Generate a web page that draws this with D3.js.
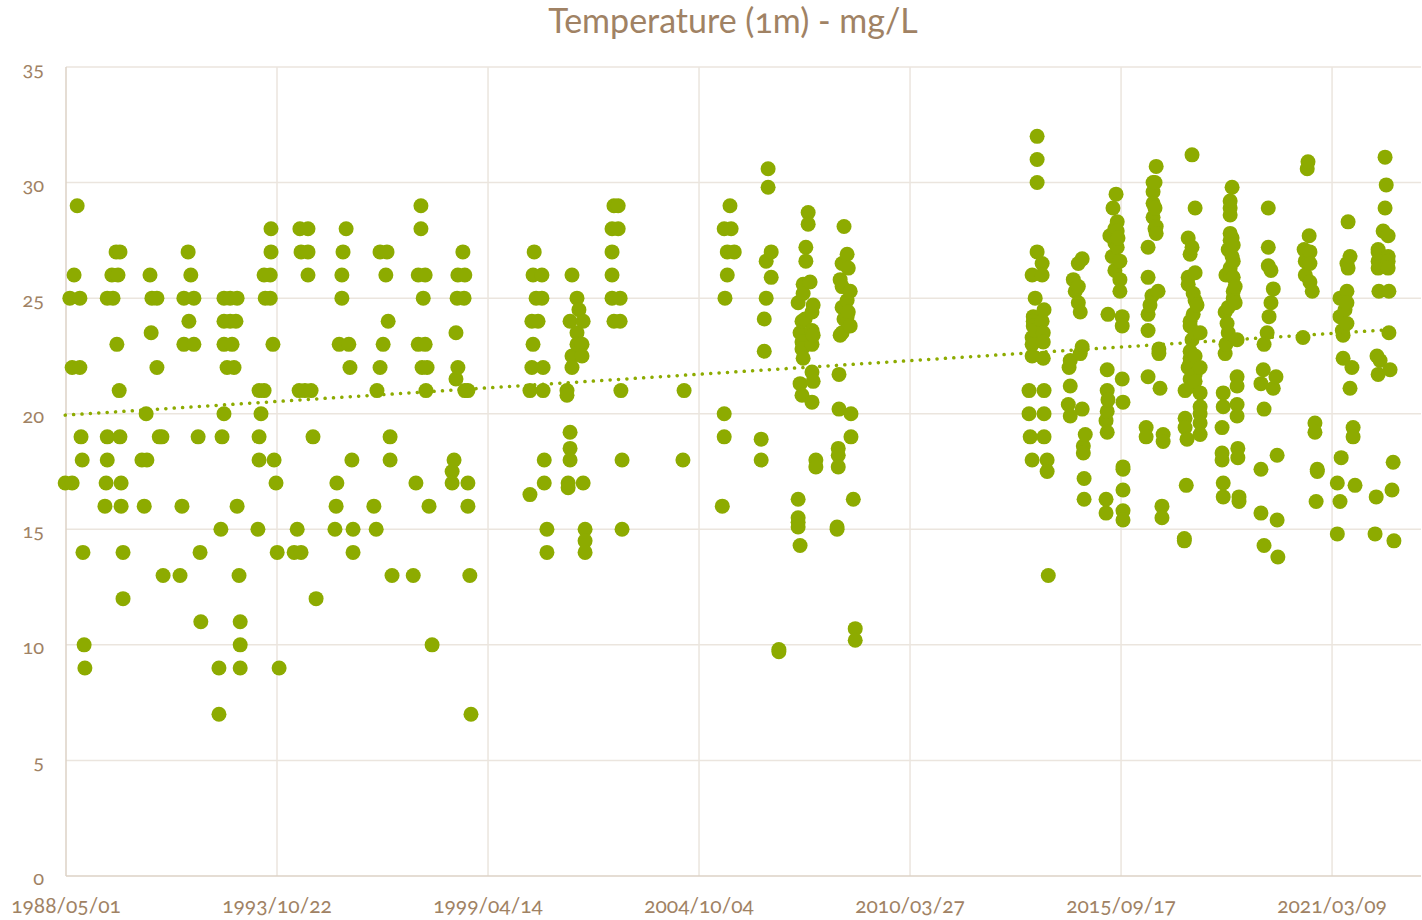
<!DOCTYPE html>
<html>
<head>
<meta charset="utf-8">
<script src="https://cdn.jsdelivr.net/npm/d3@7"></script>
<style>
  body { margin: 0; background: #fff; }
  svg text { font-family: Lato, "Open Sans", sans-serif; fill: #a08264; font-variant-numeric: oldstyle-nums; }
</style>
</head>
<body>
<svg id="chart"></svg>
<script>
// sampling time (decimal year) -> temperatures measured at 1m
var samples1988_1998 = [
  [1988.31,[17]],[1988.43,[25]],[1988.49,[17,22]],[1988.54,[26]],[1988.62,[29]],[1988.69,[25,22]],
  [1988.72,[19]],[1988.75,[18]],[1988.77,[14]],[1988.80,[10]],[1988.82,[9]],
  [1989.34,[16]],[1989.37,[17]],[1989.40,[25,19,18]],[1989.52,[26]],[1989.55,[25]],[1989.63,[27]],
  [1989.65,[23]],[1989.68,[26]],[1989.71,[21]],[1989.73,[27,19]],[1989.76,[17,16]],[1989.81,[14,12]],
  [1990.30,[18]],[1990.36,[16]],[1990.41,[20]],[1990.43,[18]],[1990.51,[26]],[1990.54,[23.5]],
  [1990.56,[25]],[1990.69,[25,22]],[1990.75,[19]],[1990.82,[19]],[1990.85,[13]],
  [1991.29,[13]],[1991.34,[16]],[1991.39,[25,23]],[1991.50,[27]],[1991.52,[24]],[1991.57,[26]],
  [1991.65,[25,23]],[1991.76,[19]],[1991.81,[14]],[1991.83,[11]],
  [1992.30,[9,7]],[1992.35,[15]],[1992.38,[19]],[1992.43,[25,24,23,20]],[1992.51,[22]],[1992.59,[25,24]],
  [1992.64,[23]],[1992.69,[22]],[1992.74,[24]],[1992.77,[25,16]],[1992.82,[13]],[1992.85,[11,10,9]],
  [1993.31,[15]],[1993.34,[21,19,18]],[1993.39,[20]],[1993.47,[26,21]],[1993.50,[25]],[1993.63,[26,25]],
  [1993.65,[28,27]],[1993.70,[23]],[1993.73,[18]],[1993.78,[17]],[1993.81,[14]],[1993.86,[9]],
  [1994.25,[14]],[1994.33,[15]],[1994.38,[21]],[1994.40,[28]],[1994.43,[27,14]],[1994.53,[21]],
  [1994.61,[28,27,26]],[1994.69,[21]],[1994.74,[19]],[1994.82,[12]],
  [1995.31,[15]],[1995.34,[16]],[1995.36,[17]],[1995.42,[23]],[1995.49,[26,25]],[1995.52,[27]],
  [1995.60,[28]],[1995.67,[23]],[1995.70,[22]],[1995.75,[18]],[1995.78,[15,14]],
  [1996.32,[16]],[1996.38,[15]],[1996.40,[21]],[1996.48,[27,22]],[1996.56,[23]],[1996.63,[26]],
  [1996.66,[27]],[1996.69,[24]],[1996.74,[19,18]],[1996.79,[13]],
  [1997.34,[13]],[1997.41,[17]],[1997.47,[26,23]],[1997.54,[29,28]],[1997.57,[22]],[1997.60,[25]],
  [1997.65,[26,23]],[1997.67,[21]],[1997.70,[22]],[1997.75,[16]],[1997.83,[10]],
  [1998.35,[17.5,17]],[1998.40,[18]],[1998.45,[23.5,21.5]],[1998.48,[25]],[1998.50,[26,22]],
  [1998.63,[27]],[1998.66,[25]],[1998.68,[26,21]],[1998.76,[21,17,16]],[1998.81,[13]],[1998.84,[7]]
];

var samples2000_2008 = [
  [2000.37,[16.5,21]],[2000.42,[24,22]],[2000.45,[26,23]],[2000.48,[27]],[2000.53,[25]],[2000.58,[24]],
  [2000.68,[26,25]],[2000.71,[22,21]],[2000.74,[18,17]],[2000.81,[15,14]],
  [2001.33,[21,20.8]],[2001.36,[17,16.8]],[2001.41,[24,19.2,18.5,18]],[2001.46,[26,22.5,22]],
  [2001.59,[25,23.5,23]],[2001.64,[24.5]],[2001.72,[23,22.5]],[2001.75,[24,17]],[2001.80,[15,14.5,14]],
  [2002.50,[28,27,26,25]],[2002.55,[29,24]],[2002.66,[29,28]],[2002.71,[25,24]],[2002.73,[21]],[2002.76,[18,15]],
  [2004.34,[18]],[2004.37,[21]],
  [2005.36,[16]],[2005.41,[28,20,19]],[2005.43,[25]],[2005.49,[27,26]],[2005.56,[29]],[2005.59,[28]],[2005.67,[27]],
  [2006.37,[18.9,18]],[2006.45,[24.1,22.7]],[2006.50,[26.6,25]],[2006.55,[30.6,29.8]],[2006.63,[27,25.9]],
  [2006.83,[9.8,9.7]],
  [2007.33,[24.8,16.3,15.5,15.3,15.1]],[2007.38,[23.5,21.3,14.3]],[2007.43,[24.0,23.1,22.8,20.8]],
  [2007.46,[25.6,25.2,22.4]],[2007.51,[24.1]],[2007.53,[27.2,26.6]],[2007.59,[28.7,28.2]],[2007.64,[25.7]],
  [2007.69,[24.4,23.6,23.0,21.8,20.5]],[2007.72,[24.7,23.4,21.4]],[2007.79,[18,17.7]],
  [2008.34,[15.1,15]],[2008.37,[18.5,18.2,17.7]],[2008.39,[21.7,20.2]],[2008.42,[25.8,23.4]],
  [2008.47,[26.5,25.5,24.6,23.5]],[2008.52,[28.1,24.1]],[2008.60,[26.9,24.9,24.2]],[2008.63,[26.3,24.4]],
  [2008.68,[25.3,23.8]],[2008.70,[20,19]],[2008.76,[16.3]],[2008.81,[10.7,10.2]]
];

var samples2013_2022 = [
  [2013.32,[21,20]],[2013.35,[19]],[2013.40,[26,23.3,23,22.5,18]],[2013.43,[24.2,24,23.8]],[2013.48,[25,23.6]],
  [2013.53,[32,31,30,27]],[2013.66,[26.5,26,24]],[2013.69,[23.5,23.1,22.4]],[2013.71,[24.5,21,20,19]],
  [2013.79,[18,17.5]],[2013.82,[13]],
  [2014.34,[20.4]],[2014.36,[22]],[2014.39,[22.3,21.2,19.9]],[2014.47,[25.8]],[2014.52,[25.3]],
  [2014.60,[26.5,25.5,24.8]],[2014.65,[24.4,22.6]],[2014.70,[26.7,22.9,20.2]],[2014.73,[18.6,18.3]],
  [2014.75,[17.2,16.3]],[2014.78,[19.1]],
  [2015.32,[19.7,16.3,15.7]],[2015.35,[21.9,21.0,20.1,19.2]],[2015.37,[24.3,20.6]],[2015.42,[27.7]],
  [2015.48,[26.8]],[2015.50,[28.9]],[2015.55,[28.0,27.4,26.2]],[2015.58,[29.5]],[2015.61,[28.3,27.9,27.2]],
  [2015.63,[27.6]],[2015.68,[26.6,25.8,25.3]],[2015.74,[24.2,23.8,21.5]],
  [2015.76,[20.5,17.7,17.6,16.7,15.8,15.4]],
  [2016.36,[19.4,19.0]],[2016.41,[27.2,25.9,24.3,23.6,21.6]],[2016.46,[24.7]],[2016.51,[25.1]],
  [2016.54,[30.0,29.6,29.1,28.5]],[2016.59,[30.0,28.9,28.0]],[2016.62,[30.7,28.1,27.8]],[2016.67,[25.3]],
  [2016.69,[22.8,22.6]],[2016.72,[21.1]],[2016.77,[16.0,15.5]],[2016.80,[19.1,18.8]],
  [2017.35,[14.6,14.5]],[2017.37,[21.0,19.8,19.4]],[2017.40,[16.9]],[2017.42,[18.9]],
  [2017.45,[27.6,25.9,25.6,22.0]],[2017.50,[26.9,24.0,23.8,22.7,22.4,22.2,21.5]],[2017.55,[31.2,27.2,23.2,21.2]],
  [2017.58,[25.2,24.3]],[2017.63,[28.9,26.1,24.9,23.5,22.5,21.7,21.4]],[2017.68,[24.7]],
  [2017.76,[23.5,22.0,20.9,20.3,20.0,19.6,19.1]],
  [2018.33,[19.4,18.3,18.0]],[2018.36,[20.9,20.3,17.0,16.4]],[2018.41,[24.4,22.6]],[2018.43,[26.0,23.0]],
  [2018.46,[23.9]],[2018.49,[27.1,24.6,23.5]],[2018.54,[29.2,28.9,28.6,27.8,27.5,26.3,26.1]],[2018.59,[29.8,27.6,26.8]],
  [2018.62,[27.3,26.6,25.9,25.3,25.0]],[2018.67,[25.5,24.8]],[2018.72,[23.2,21.6,21.2,20.4,19.9]],
  [2018.74,[18.5,18.1]],[2018.77,[16.4,16.2]],
  [2019.34,[21.3,17.6,15.7]],[2019.40,[21.9]],[2019.42,[23.0,20.2,14.3]],[2019.50,[23.5]],
  [2019.53,[28.9,27.2,26.4]],[2019.55,[24.2]],[2019.60,[26.2,24.8]],[2019.66,[25.4,21.1]],
  [2019.73,[21.6]],[2019.76,[18.2,15.4]],[2019.78,[13.8]],
  [2020.43,[23.3]],[2020.46,[27.1]],[2020.49,[26.6,26.0]],[2020.54,[30.6]],[2020.56,[30.9]],
  [2020.59,[27.7]],[2020.61,[27.0,26.5,25.7]],[2020.67,[25.3]],[2020.74,[19.6,19.2]],[2020.77,[16.2]],
  [2020.80,[17.6,17.5]],
  [2021.32,[17.0,14.8]],[2021.39,[25.0,24.2,16.2]],[2021.42,[18.1]],[2021.45,[23.6]],[2021.47,[23.4,22.4]],
  [2021.52,[24.5]],[2021.57,[26.5,25.3,24.8,23.9]],[2021.60,[28.3,26.3]],[2021.65,[26.8,21.1]],[2021.70,[22.0]],
  [2021.73,[19.4,19.0]],[2021.78,[16.9]],
  [2022.30,[14.8]],[2022.33,[16.4]],[2022.35,[22.5]],[2022.38,[27.1,27.0,26.6,26.3,21.7]],[2022.40,[25.3]],
  [2022.43,[22.3]],[2022.51,[27.9]],[2022.56,[31.1,28.9]],[2022.59,[29.9]],[2022.64,[27.7,26.8,26.6,26.3]],
  [2022.66,[25.3,23.5]],[2022.69,[21.9]],[2022.74,[16.7]],[2022.77,[17.9]],[2022.79,[14.5]]
];

var xTickLabels = ["1988/05/01","1993/10/22","1999/04/14","2004/10/04","2010/03/27","2015/09/17","2021/03/09"];
var xAxisEnd = "2023/06/30";
var yTicks = [0,5,10,15,20,25,30,35];
var title = "Temperature (1m) - mg/L";

var W = 1422, H = 920;
var plotLeft = 66, plotRight = 1421, plotTop = 67, plotBottom = 876;
var green = "#8dab00";

var parse = d3.timeParse("%Y/%m/%d");

function yearToDate(yv) {
  var yr = Math.floor(yv);
  var a = new Date(yr, 0, 1), b = new Date(yr + 1, 0, 1);
  return new Date(+a + (yv - yr) * (b - a));
}

// flatten sampling groups into points
var points = [];
[samples1988_1998, samples2000_2008, samples2013_2022].forEach(function(list) {
  list.forEach(function(s) {
    var d = yearToDate(s[0]);
    s[1].forEach(function(v) { points.push({date: d, value: v}); });
  });
});

var svg = d3.select("#chart").attr("width", W).attr("height", H);

var x = d3.scaleTime()
  .domain([parse(xTickLabels[0]), parse(xAxisEnd)])
  .range([plotLeft, plotRight]);

var y = d3.scaleLinear()
  .domain([0, 35])
  .range([plotBottom, plotTop]);

var xTicks = xTickLabels.map(parse);

// grid
svg.append("g").selectAll("line")
  .data(yTicks.filter(function(d) { return d > 0; }))
  .enter().append("line")
  .attr("x1", plotLeft).attr("x2", plotRight)
  .attr("y1", function(d) { return y(d); })
  .attr("y2", function(d) { return y(d); })
  .attr("stroke", "#ebe5de").attr("stroke-width", 1.5);

svg.append("g").selectAll("line")
  .data(xTicks.slice(1))
  .enter().append("line")
  .attr("x1", function(d) { return x(d); })
  .attr("x2", function(d) { return x(d); })
  .attr("y1", plotTop).attr("y2", plotBottom)
  .attr("stroke", "#ebe5de").attr("stroke-width", 1.5);

// axis lines
svg.append("line").attr("x1", plotLeft).attr("x2", plotLeft).attr("y1", plotTop).attr("y2", plotBottom)
  .attr("stroke", "#dcd2c6").attr("stroke-width", 1.5);
svg.append("line").attr("x1", plotLeft).attr("x2", plotRight).attr("y1", plotBottom).attr("y2", plotBottom)
  .attr("stroke", "#dcd2c6").attr("stroke-width", 1.5);

// tick labels
svg.append("g").selectAll("text")
  .data(yTicks)
  .enter().append("text")
  .attr("x", 44)
  .attr("y", function(d) { return y(d) + 4; })
  .attr("text-anchor", "end")
  .attr("dominant-baseline", "middle")
  .style("font-size", "20px")
  .text(function(d) { return d; });

svg.append("g").selectAll("text")
  .data(xTicks)
  .enter().append("text")
  .attr("x", function(d) { return x(d); })
  .attr("y", 908)
  .attr("text-anchor", "middle")
  .attr("dominant-baseline", "middle")
  .style("font-size", "21px")
  .text(function(d, i) { return xTickLabels[i]; });

// points
svg.append("g").selectAll("circle")
  .data(points)
  .enter().append("circle")
  .attr("cx", function(d) { return x(d.date); })
  .attr("cy", function(d) { return y(d.value); })
  .attr("r", 7.5)
  .attr("fill", green);

// linear trend (least squares)
var xs = points.map(function(d) { return +d.date; });
var mx = d3.mean(xs), my = d3.mean(points, function(d) { return d.value; });
var sxy = 0, sxx = 0;
points.forEach(function(d) {
  sxy += (+d.date - mx) * (d.value - my);
  sxx += (+d.date - mx) * (+d.date - mx);
});
var slope = sxy / sxx, icpt = my - slope * mx;
var x0 = d3.min(xs), x1 = d3.max(xs);

svg.append("line")
  .attr("x1", x(new Date(x0))).attr("y1", y(icpt + slope * x0))
  .attr("x2", x(new Date(x1))).attr("y2", y(icpt + slope * x1))
  .attr("stroke", green)
  .attr("stroke-width", 3.5)
  .attr("stroke-linecap", "round")
  .attr("stroke-dasharray", "0.1 8.3");

svg.append("text")
  .attr("x", 733).attr("y", 24)
  .attr("text-anchor", "middle")
  .attr("dominant-baseline", "middle")
  .style("font-size", "34px")
  .text(title);
</script>
</body>
</html>
